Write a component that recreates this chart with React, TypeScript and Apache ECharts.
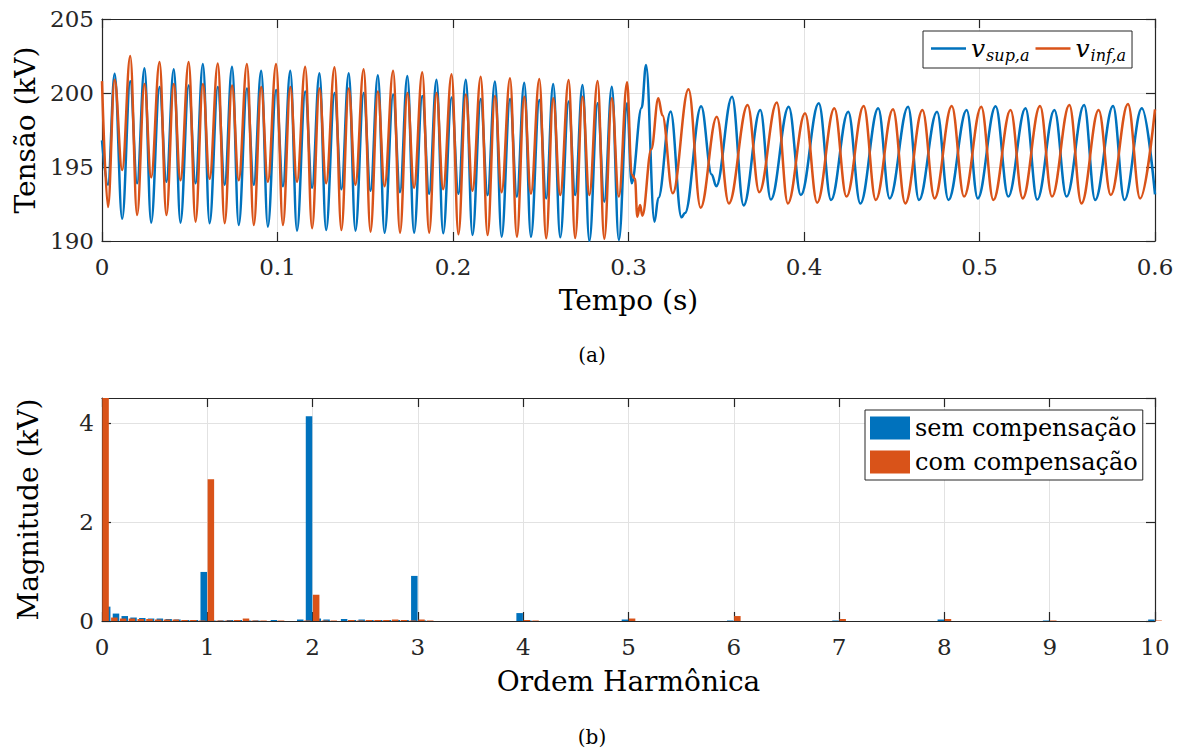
import React, { useEffect, useRef } from 'react';
import * as echarts from 'echarts';

// ---------- (a) arm voltages: extrema ----------
// shared instants (s) of the extrema in the first interval (both arms oscillate in step)
const earlyTimes = [
  0, 0.0034, 0.0072, 0.0115,
  0.0161, 0.0200, 0.0242, 0.0280,
  0.0328, 0.0367, 0.0409, 0.0447,
  0.0494, 0.0533, 0.0575, 0.0613,
  0.0660, 0.0699, 0.0741, 0.0779,
  0.0826, 0.0865, 0.0907, 0.0945,
  0.0992, 0.1031, 0.1073, 0.1111,
  0.1158, 0.1197, 0.1239, 0.1277,
  0.1325, 0.1364, 0.1406, 0.1444,
  0.1491, 0.1530, 0.1572, 0.1610,
  0.1659, 0.1698, 0.1740, 0.1778,
  0.1825, 0.1864, 0.1906, 0.1944,
  0.1992, 0.2031, 0.2073, 0.2111,
  0.2158, 0.2197, 0.2239, 0.2277,
  0.2325, 0.2364, 0.2406, 0.2444,
  0.2492, 0.2531, 0.2571, 0.2611,
  0.2659, 0.2696, 0.2738, 0.2777,
  0.2824, 0.2862, 0.2905, 0.2945,
];
// v_sup,a (kV) at earlyTimes
const supEarly = [
  196.8, 193.8, 201.3, 191.5,
  200.8, 193.9, 201.67, 191.24,
  200.4, 194.0, 201.6, 191.24,
  200.5, 193.9, 201.96, 191.2,
  200.4, 193.8, 201.78, 191.08,
  200.3, 193.8, 201.51, 190.97,
  200.2, 193.7, 201.51, 190.7,
  200.1, 193.6, 201.33, 190.74,
  200.0, 193.5, 201.33, 190.7,
  200.0, 193.4, 201.2, 190.56,
  199.9, 193.3, 201.15, 190.56,
  199.8, 193.2, 200.9, 190.52,
  199.7, 193.2, 200.9, 190.4,
  199.6, 193.1, 200.77, 190.29,
  199.6, 193.0, 200.7, 190.29,
  199.53, 192.88, 200.6, 190.25,
  199.42, 193.1, 200.54, 190.0,
  199.3, 192.66, 200.43, 190.07,
];
// v_inf,a (kV) at earlyTimes
const infEarly = [
  200.8, 192.3, 200.9, 194.8,
  202.5, 191.76, 200.6, 194.3,
  202.1, 191.75, 200.6, 194.1,
  202.1, 191.3, 200.6, 194.2,
  202.0, 191.2, 200.5, 194.1,
  201.96, 191.08, 200.4, 194.0,
  201.96, 191.08, 200.4, 194.0,
  201.78, 190.86, 200.3, 193.9,
  201.74, 190.74, 200.3, 193.8,
  201.6, 190.63, 200.1, 193.7,
  201.5, 190.56, 200.0, 193.6,
  201.4, 190.56, 200.0, 193.5,
  201.26, 190.45, 199.9, 193.4,
  201.1, 190.4, 199.8, 193.3,
  201.0, 190.29, 199.75, 193.2,
  200.95, 190.18, 199.64, 193.1,
  200.88, 190.2, 199.75, 193.1,
  200.81, 190.15, 199.64, 193.0,
];
// after the compensation is switched on
const supLateTimes = [
  0.2992, 0.3018, 0.3075, 0.3100, 0.3148, 0.3170, 0.3240, 0.3302, 0.3322, 0.3414,
  0.3474, 0.3500, 0.3590, 0.3656, 0.3751, 0.3811, 0.3913, 0.3982, 0.4084, 0.4154,
  0.4252, 0.4321, 0.4423, 0.4488, 0.4593, 0.4655, 0.4758, 0.4823, 0.4927, 0.4990,
  0.5092, 0.5164, 0.5262, 0.5329, 0.5427, 0.5496, 0.5596, 0.5659, 0.5761, 0.5826,
  0.5925, 0.6000,
];
const supLate = [
  199.3, 193.9, 199.0, 201.9, 191.3, 192.9, 198.75, 191.6, 191.9, 199.1,
  194.5, 193.7, 199.75, 192.4, 198.85, 192.8, 199.07, 193.1, 199.3, 192.77,
  198.74, 192.54, 198.97, 192.88, 199.07, 192.77, 198.74, 192.77, 198.85, 192.88,
  199.1, 193.0, 198.97, 192.8, 198.85, 193.0, 199.19, 192.77, 199.12, 192.77,
  198.97, 193.15,
];
const infLateTimes = [
  0.2992, 0.3018, 0.3037, 0.3050, 0.3066, 0.3079, 0.3130, 0.3170, 0.3193, 0.3252,
  0.3342, 0.3411, 0.3503, 0.3572, 0.3679, 0.3745, 0.3845, 0.3908, 0.4006, 0.4075,
  0.4173, 0.4242, 0.4340, 0.4409, 0.4507, 0.4577, 0.4675, 0.4744, 0.4842, 0.4912,
  0.5010, 0.5079, 0.5177, 0.5246, 0.5345, 0.5413, 0.5512, 0.5581, 0.5679, 0.5748,
  0.5846, 0.5915, 0.6000,
];
const infLate = [
  200.72, 194.5, 194.2, 191.64, 192.43, 191.71, 196.2, 199.64, 198.5, 193.22,
  200.25, 192.25, 198.4, 192.54, 199.19, 193.3, 199.36, 192.54, 198.63, 192.59,
  198.97, 193.0, 199.12, 192.77, 198.9, 192.54, 198.85, 192.88, 199.12, 193.0,
  199.07, 192.77, 198.85, 192.88, 199.12, 193.0, 199.19, 192.54, 198.85, 193.1,
  199.26, 192.88, 198.9,
];
const timeTickLabels = ['0', '0.1', '0.2', '0.3', '0.4', '0.5', '0.6'];
const voltTickLabels = ['190', '195', '200', '205'];

// ---------- (b) harmonic spectrum ----------
const harmonicOrders = [
  0, 0.0833, 0.1667, 0.25, 0.3333, 0.4167, 0.5, 0.5833, 0.6667, 0.75, 0.8333, 0.9167,
  1, 1.0833, 1.1667, 1.25, 1.3333, 1.4167, 1.5, 1.6667, 1.9167,
  2, 2.0833, 2.1667, 2.3333, 2.4167, 2.5, 2.5833, 2.6667, 2.75, 2.8333, 2.9167,
  3, 3.0833, 4, 4.0833, 5, 6, 7, 8, 9, 10,
];
// the blue order-0 bar lies left of the axis in the figure and is not visible
const semCompensacao = [
  null, 0.29, 0.15, 0.10, 0.07, 0.06, 0.05, 0.05, 0.04, 0.03, 0.02, 0.02,
  0.99, 0.01, 0.01, 0.02, 0.02, 0.01, 0.01, 0.02, 0.03,
  4.13, 0.05, 0.03, 0.04, 0.02, 0.03, 0.02, 0.02, 0.02, 0.02, 0.02,
  0.91, 0.01, 0.16, 0.01, 0.03, 0.01, 0.01, 0.03, 0.01, 0.03,
];
const comCompensacao = [
  4.5, 0.07, 0.05, 0.05, 0.04, 0.04, 0.03, 0.03, 0.03, 0.02, 0.02, 0.01,
  2.86, 0.01, 0.01, 0.02, 0.05, 0.01, 0.01, 0.01, 0.01,
  0.53, 0.01, 0.01, 0.02, 0.01, 0.02, 0.02, 0.02, 0.03, 0.02, 0.01,
  0.03, 0.01, 0.02, 0.01, 0.05, 0.10, 0.04, 0.04, 0.01, 0.01,
];
const orderTickLabels = ['0', '1', '2', '3', '4', '5', '6', '7', '8', '9', '10'];
const magTickLabels = ['0', '2', '4'];

const FONT = 'DejaVu Serif';
const BLUE = '#0072BD';
const ORANGE = '#D95319';
const AXIS = '#262626';
const GRIDC = '#e2e2e2';

const pairs = (ts: number[], vs: (number | null)[]) => ts.map((t, i) => [t, vs[i]]);

function mainAxis(extra: any) {
  return {
    type: 'value',
    axisLine: { show: true, onZero: false, lineStyle: { color: AXIS, width: 1.2 } },
    axisTick: { show: true, inside: true, length: 9, lineStyle: { color: AXIS, width: 1.2 } },
    splitLine: { show: true, lineStyle: { color: GRIDC, width: 1 } },
    nameLocation: 'middle',
    nameTextStyle: { fontFamily: FONT, fontSize: 28, color: '#000' },
    ...extra,
  };
}
function mirrorAxis(extra: any) {
  return {
    type: 'value',
    axisLine: { show: true, onZero: false, lineStyle: { color: AXIS, width: 1.2 } },
    axisTick: { show: true, inside: true, length: 9, lineStyle: { color: AXIS, width: 1.2 } },
    axisLabel: { show: false },
    splitLine: { show: false },
    ...extra,
  };
}
const tickLabel = (extra: any) => ({ fontFamily: FONT, fontSize: 23, color: AXIS, ...extra });

export default function App() {
  const ref = useRef<HTMLDivElement>(null);
  useEffect(() => {
    const chart = echarts.init(ref.current!, null, { renderer: 'svg' });
    const option: any = {
      animation: false,
      backgroundColor: '#fff',
      textStyle: { fontFamily: FONT },
      grid: [
        { left: 102, top: 19, width: 1053, height: 222, containLabel: false, outerBoundsMode: 'none' },
        { left: 102, top: 398, width: 1053, height: 223, containLabel: false, outerBoundsMode: 'none' },
      ],
      xAxis: [
        mainAxis({
          gridIndex: 0, min: 0, max: 0.6, interval: 0.1, name: 'Tempo (s)', nameGap: 45,
          axisLabel: tickLabel({ margin: 14, formatter: (v: number) => timeTickLabels[Math.round(v * 10)] }),
        }),
        mirrorAxis({ gridIndex: 0, min: 0, max: 0.6, interval: 0.1, position: 'top' }),
        mainAxis({
          gridIndex: 1, min: 0, max: 10, interval: 1, name: 'Ordem Harmônica', nameGap: 46,
          axisLabel: tickLabel({ margin: 14, formatter: (v: number) => orderTickLabels[Math.round(v)] }),
        }),
        mirrorAxis({ gridIndex: 1, min: 0, max: 10, interval: 1, position: 'top' }),
      ],
      yAxis: [
        mainAxis({
          gridIndex: 0, min: 190, max: 205, interval: 5, name: 'Tensão (kV)', nameGap: 60, nameRotate: 90,
          axisLabel: tickLabel({ margin: 8, formatter: (v: number) => voltTickLabels[Math.round((v - 190) / 5)] }),
        }),
        mirrorAxis({ gridIndex: 0, min: 190, max: 205, interval: 5, position: 'right' }),
        mainAxis({
          gridIndex: 1, min: 0, max: 4.5, interval: 2, name: 'Magnitude (kV)', nameGap: 60, nameRotate: 90,
          axisLabel: tickLabel({
            margin: 8, showMaxLabel: false,
            formatter: (v: number) => (Math.abs(v / 2 - Math.round(v / 2)) < 1e-6 ? magTickLabels[Math.round(v / 2)] ?? '' : ''),
          }),
        }),
        mirrorAxis({ gridIndex: 1, min: 0, max: 4.5, interval: 2, position: 'right' }),
      ],
      legend: [
        {
          data: ['vsup', 'vinf'],
          left: 923, top: 31,
          orient: 'horizontal',
          icon: 'rect', itemWidth: 35, itemHeight: 2.4, itemGap: 6,
          padding: [5, 6, 5, 8],
          borderColor: AXIS, borderWidth: 1, backgroundColor: '#fff',
          formatter: (n: string) => (n === 'vsup' ? '{v|v}{s|sup,a}' : '{v|v}{s|inf,a}'),
          textStyle: {
            rich: {
              v: { fontFamily: FONT, fontStyle: 'italic', fontSize: 25, color: '#000', verticalAlign: 'middle' },
              s: { fontFamily: FONT, fontStyle: 'italic', fontSize: 16, color: '#000', verticalAlign: 'middle', padding: [13, 0, 0, 1] },
            },
          },
        },
        {
          data: ['sem compensação', 'com compensação'],
          left: 865, top: 410,
          orient: 'vertical',
          icon: 'rect', itemWidth: 40, itemHeight: 23, itemGap: 10,
          padding: [6, 5, 6, 5],
          borderColor: AXIS, borderWidth: 1, backgroundColor: '#fff',
          textStyle: { fontFamily: FONT, fontSize: 24, color: '#000' },
        },
      ],
      graphic: [
        { type: 'text', x: 592, y: 355, style: { text: '(a)', font: `20px ${FONT}`, fill: '#000', textAlign: 'center', textVerticalAlign: 'middle', align: 'center', verticalAlign: 'middle' } },
        { type: 'text', x: 592, y: 737, style: { text: '(b)', font: `20px ${FONT}`, fill: '#000', textAlign: 'center', textVerticalAlign: 'middle', align: 'center', verticalAlign: 'middle' } },
      ],
      series: [
        {
          type: 'line', name: 'vsup', xAxisIndex: 0, yAxisIndex: 0,
          data: pairs(earlyTimes, supEarly).concat(pairs(supLateTimes, supLate)),
          symbol: 'none', showSymbol: false, smooth: 0.38, smoothMonotone: 'x',
          lineStyle: { color: BLUE, width: 2.5 }, itemStyle: { color: BLUE }, z: 3,
        },
        {
          type: 'line', name: 'vinf', xAxisIndex: 0, yAxisIndex: 0,
          data: pairs(earlyTimes, infEarly).concat(pairs(infLateTimes, infLate)),
          symbol: 'none', showSymbol: false, smooth: 0.38, smoothMonotone: 'x',
          lineStyle: { color: ORANGE, width: 2.5 }, itemStyle: { color: ORANGE }, z: 4,
        },
        {
          type: 'bar', name: 'sem compensação', xAxisIndex: 2, yAxisIndex: 2,
          data: pairs(harmonicOrders, semCompensacao),
          barWidth: 6.5, barGap: '10%', clip: true,
          itemStyle: { color: BLUE },
        },
        {
          type: 'bar', name: 'com compensação', xAxisIndex: 2, yAxisIndex: 2,
          data: pairs(harmonicOrders, comCompensacao),
          barWidth: 6.5, barGap: '10%', clip: true,
          itemStyle: { color: ORANGE },
        },
      ],
    };
    chart.setOption(option);
    return () => chart.dispose();
  }, []);
  return (
    <>
      <style>{`#harm-chart text, #harm-chart tspan { font-family: "DejaVu Serif", serif !important; }`}</style>
      <div id="harm-chart" ref={ref} style={{ position: 'absolute', left: 0, top: 0, width: 1184, height: 753 }} />
    </>
  );
}
